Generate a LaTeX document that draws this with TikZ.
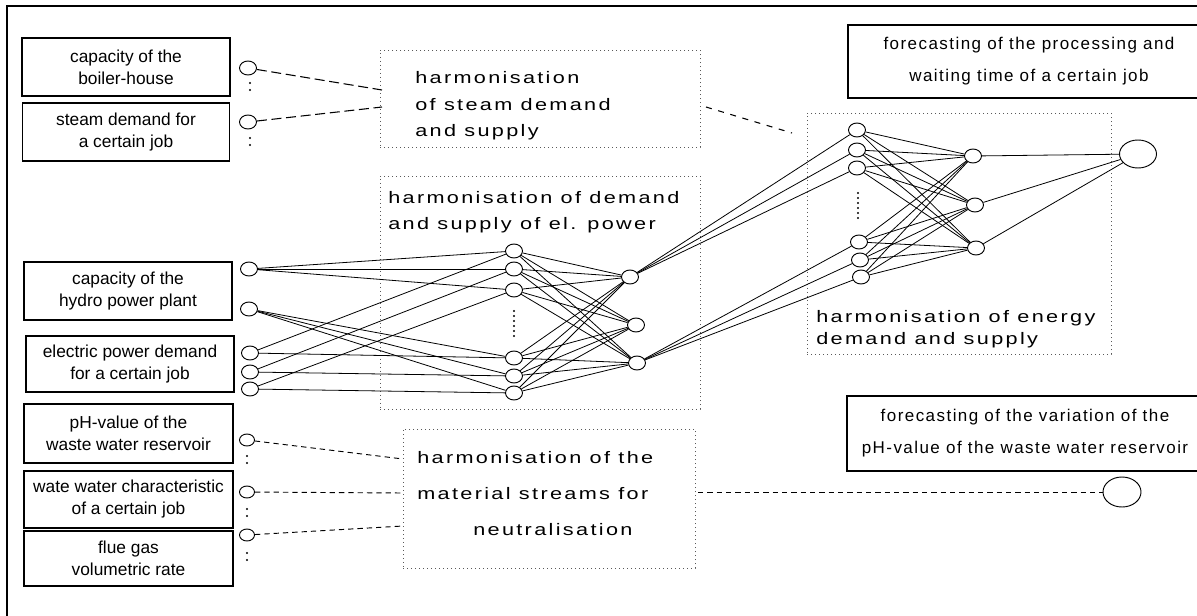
\documentclass[tikz,border=0pt]{standalone}
\usepackage{fontspec}
\usetikzlibrary{shapes.geometric,calc}
\newfontfamily\labelfont{Liberation Sans}
\newfontfamily\groupfont[FakeStretch=1.3,LetterSpace=14]{Liberation Sans}
\newfontfamily\goalfont[LetterSpace=8.5]{Liberation Sans}
\newdimen\pxu \pxu=0.75pt

\tikzset{
  inbox/.style={draw, line width=0.9pt, inner sep=0pt, align=center,
    font=\labelfont\fontsize{13}{16.5}\selectfont},
  goalbox/.style={draw, line width=0.9pt, inner sep=0pt, align=center,
    font=\goalfont\fontsize{12.75}{24}\selectfont},
  group/.style={draw=black!65, line width=0.6pt, dash pattern=on 0.6pt off 2.4pt,
    inner sep=0pt},
  grouptext/.style={anchor=north west, inner sep=0pt, align=left},
  cell/.style={draw, ellipse, line width=0.7pt, inner sep=0pt,
    minimum width=17*\pxu, minimum height=14*\pxu},
  bigcell/.style={draw, ellipse, line width=0.7pt, inner sep=0pt,
    minimum width=37*\pxu, minimum height=28*\pxu},
  link/.style={line width=0.6pt},
  steamwire/.style={line width=0.8pt, dash pattern=on 7.5pt off 3.5pt},
  shortwire/.style={line width=0.7pt, dash pattern=on 4pt off 3pt},
  sparsewire/.style={line width=0.8pt, dash pattern=on 4.5pt off 5pt},
}

\begin{document}
\begin{tikzpicture}[x=0.75pt,y=-0.75pt]
\useasboundingbox (0,0) rectangle (1197,615);
\clip (0,0) rectangle (1197,615);

% outer frame
\draw[line width=0.9pt] (7,640) -- (7,6) -- (1230,6);

% input descriptions
\node[inbox, minimum width=208*\pxu, minimum height=58*\pxu] (b1) at (126,67) {capacity of the\\boiler-house};
\node[inbox, minimum width=207*\pxu, minimum height=58*\pxu] (b2) at (126,132) {steam demand for\\a certain job};
\node[inbox, minimum width=208*\pxu, minimum height=58*\pxu] (b3) at (128,291) {capacity of the\\hydro power plant};
\node[inbox, minimum width=208*\pxu, minimum height=56*\pxu] (b4) at (130,364) {electric power demand\\for a certain job};
\node[inbox, minimum width=209*\pxu, minimum height=59*\pxu] (b5) at (128.5,433.5) {pH-value of the\\waste water reservoir};
\node[inbox, minimum width=209*\pxu, minimum height=57*\pxu] (b6) at (128.5,499.5) {wate water characteristic\\of a certain job};
\node[inbox, minimum width=209*\pxu, minimum height=55*\pxu] (b7) at (128.5,558.5) {flue gas\\volumetric rate};

% forecast descriptions
\node[goalbox, minimum width=362*\pxu, minimum height=73*\pxu] (f1) at (1029,61.5) {forecasting of the processing and\\waiting time of a certain job};
\node[goalbox, minimum width=356*\pxu, minimum height=75*\pxu] (f2) at (1025,433.5) {forecasting of the variation of the\\pH-value of the waste water reservoir};

% dotted groups
\node[group, minimum width=320*\pxu, minimum height=97*\pxu] (steam) at (540,98.5) {};
\node[group, minimum width=320*\pxu, minimum height=233*\pxu] (power) at (540,292.5) {};
\node[group, minimum width=304*\pxu, minimum height=241*\pxu] (energy) at (959,233.5) {};
\node[group, minimum width=292*\pxu, minimum height=139*\pxu] (mat) at (549,498.5) {};

\node[grouptext, font=\groupfont\fontsize{12.5}{20}\selectfont] (steamlbl) at (415,71)
  {harmonisation\\of steam demand\\and supply};
\node[grouptext, font=\groupfont\fontsize{12.5}{19.5}\selectfont] (powerlbl) at (388,191)
  {harmonisation of demand\\and supply of el. power};
\node[grouptext, font=\groupfont\fontsize{12.5}{16.5}\selectfont] (energylbl) at (816,310)
  {harmonisation of energy\\demand and supply};
\node[grouptext, font=\groupfont\fontsize{12.5}{27}\selectfont] (matlbl) at (417,451)
  {harmonisation of the\\material streams for\\\hspace*{42pt}neutralisation};

% steam inputs
\node[cell] (s1) at (248,68) {};
\node[cell] (s2) at (248,122) {};
% power inputs
\node[cell] (p1) at (249,269) {};
\node[cell] (p2) at (249,309) {};
\node[cell] (p3) at (250,353) {};
\node[cell] (p4) at (250,372) {};
\node[cell] (p5) at (250,389) {};
% material inputs
\node[cell, minimum width=15*\pxu, minimum height=12*\pxu] (m1) at (247,440) {};
\node[cell, minimum width=15*\pxu, minimum height=12*\pxu] (m2) at (247,492) {};
\node[cell, minimum width=15*\pxu, minimum height=12*\pxu] (m3) at (247,535) {};

% colon marks below single inputs
\foreach \x/\y in {250/83, 250/138, 247/456, 247/509, 247/553}{
  \fill (\x,\y) circle[radius=0.8pt] (\x,\y+7) circle[radius=0.8pt];
}

% power network
\node[cell] (h1) at (514,251) {};
\node[cell] (h2) at (514,269) {};
\node[cell] (h3) at (514,290) {};
\node[cell] (h4) at (514,358) {};
\node[cell] (h5) at (514,376) {};
\node[cell] (h6) at (514,393) {};
\node[cell] (q1) at (630,277) {};
\node[cell] (q2) at (636,325) {};
\node[cell] (q3) at (637,363) {};
\foreach \k in {0,...,5} \fill (514,311+5*\k) circle[radius=0.8pt];

% energy network
\node[cell] (e1) at (857,130) {};
\node[cell] (e2) at (857,150) {};
\node[cell] (e3) at (857,168) {};
\node[cell] (e4) at (859,242) {};
\node[cell] (e5) at (860,260) {};
\node[cell] (e6) at (861,277) {};
\node[cell] (g1) at (973,156) {};
\node[cell] (g2) at (975,205) {};
\node[cell] (g3) at (976,248) {};
\node[bigcell] (out1) at (1138,154) {};
\node[bigcell, minimum width=38*\pxu, minimum height=30*\pxu] (out2) at (1122,492) {};
\foreach \k in {0,...,5} \fill (858,193+5*\k) circle[radius=0.8pt];

% connections of the power network
\foreach \a/\b in {p1/h1,p1/h2,p1/h3,p2/h4,p2/h5,p2/h6,p3/h1,p3/h4,p4/h2,p4/h5,p5/h3,p5/h6}
  \draw[link] (\a) -- (\b);
\foreach \i in {1,...,6}
  \foreach \j in {1,2,3}
    \draw[link] (h\i) -- (q\j);

% connections into the energy network
\foreach \b in {e1,e2,e3} \draw[link] (q1) -- (\b);
\foreach \b in {e4,e5,e6} \draw[link] (q3) -- (\b);
\foreach \i in {1,...,6}
  \foreach \j in {1,2,3}
    \draw[link] (e\i) -- (g\j);
\foreach \j in {1,2,3} \draw[link] (g\j) -- (out1);

% dashed couplings
\coordinate (steamin1) at (382,90);
\coordinate (steamin2) at (382,107);
\coordinate (steamout) at (706,107);
\coordinate (energyin) at (792,133);
\coordinate (matin1) at (403,459);
\coordinate (matin2) at (403,493);
\coordinate (matin3) at (403,526);
\coordinate (matout) at (698,492);

\draw[steamwire] (s1) -- (steamin1);
\draw[steamwire] (s2) -- (steamin2);
\draw[sparsewire] (steamout) -- (energyin);
\draw[shortwire] (m1) -- (matin1);
\draw[shortwire] (m2) -- (matin2);
\draw[shortwire] (m3) -- (matin3);
\draw[shortwire] (matout) -- (out2);
\end{tikzpicture}
\end{document}
